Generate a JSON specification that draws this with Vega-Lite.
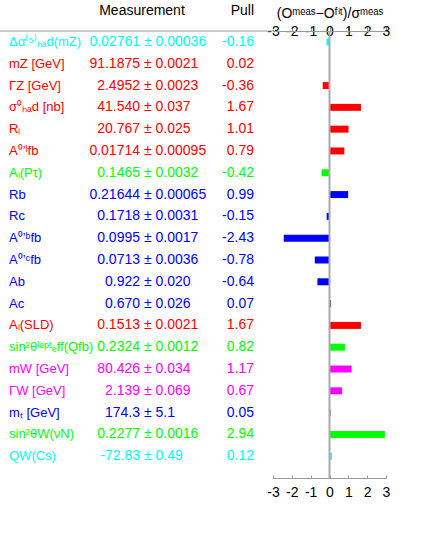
{
  "$schema": "https://vega.github.io/schema/vega-lite/v6.json",
  "width": 113,
  "height": 447,
  "autosize": {"type": "none"},
  "padding": {"left": 273, "top": 31, "right": 42, "bottom": 76},
  "background": "white",
  "config": {
    "view": {"stroke": null},
    "font": "Liberation Sans",
    "text": {"font": "Liberation Sans", "fontSize": 14, "baseline": "middle"}
  },
  "data": {
    "values": [
      {"id": 1, "label": "Δα⁽⁵⁾ₕₐd(mZ)", "value": "0.02761", "err": "± 0.00036", "pull": -0.16, "set": "A"},
      {"id": 2, "label": "mZ [GeV]", "value": "91.1875", "err": "± 0.0021", "pull": 0.02, "set": "B"},
      {"id": 3, "label": "ΓZ [GeV]", "value": "2.4952", "err": "± 0.0023", "pull": -0.36, "set": "B"},
      {"id": 4, "label": "σ⁰ₕₐd [nb]", "value": "41.540", "err": "± 0.037", "pull": 1.67, "set": "B"},
      {"id": 5, "label": "Rₗ", "value": "20.767", "err": "± 0.025", "pull": 1.01, "set": "B"},
      {"id": 6, "label": "A⁰ʼˡfb", "value": "0.01714", "err": "± 0.00095", "pull": 0.79, "set": "B"},
      {"id": 7, "label": "Aₗ(Pτ)", "value": "0.1465", "err": "± 0.0032", "pull": -0.42, "set": "C"},
      {"id": 8, "label": "Rb", "value": "0.21644", "err": "± 0.00065", "pull": 0.99, "set": "D"},
      {"id": 9, "label": "Rc", "value": "0.1718", "err": "± 0.0031", "pull": -0.15, "set": "D"},
      {"id": 10, "label": "A⁰ʼᵇfb", "value": "0.0995", "err": "± 0.0017", "pull": -2.43, "set": "D"},
      {"id": 11, "label": "A⁰ʼᶜfb", "value": "0.0713", "err": "± 0.0036", "pull": -0.78, "set": "D"},
      {"id": 12, "label": "Ab", "value": "0.922", "err": "± 0.020", "pull": -0.64, "set": "D"},
      {"id": 13, "label": "Ac", "value": "0.670", "err": "± 0.026", "pull": 0.07, "set": "D"},
      {"id": 14, "label": "Aₗ(SLD)", "value": "0.1513", "err": "± 0.0021", "pull": 1.67, "set": "B"},
      {"id": 15, "label": "sin²θˡᵉᵖᵗₑff(Qfb)", "value": "0.2324", "err": "± 0.0012", "pull": 0.82, "set": "C"},
      {"id": 16, "label": "mW [GeV]", "value": "80.426", "err": "± 0.034", "pull": 1.17, "set": "E"},
      {"id": 17, "label": "ΓW [GeV]", "value": "2.139", "err": "± 0.069", "pull": 0.67, "set": "E"},
      {"id": 18, "label": "mₜ [GeV]", "value": "174.3", "err": "± 5.1", "pull": 0.05, "set": "D"},
      {"id": 19, "label": "sin²θW(νN)", "value": "0.2277", "err": "± 0.0016", "pull": 2.94, "set": "C"},
      {"id": 20, "label": "QW(Cs)", "value": "-72.83", "err": "± 0.49", "pull": 0.12, "set": "A"}
    ]
  },
  "encoding": {
    "y": {
      "field": "id",
      "type": "ordinal",
      "axis": null,
      "scale": {"type": "band", "paddingInner": 0.68, "paddingOuter": 0.59, "align": 0.29}
    },
    "color": {
      "field": "set",
      "type": "nominal",
      "legend": null,
      "scale": {"domain": ["A", "B", "C", "D", "E"], "range": ["#00FFFF", "#FF0000", "#00FF00", "#0000FF", "#FF00FF"]}
    }
  },
  "layer": [
    {
      "mark": {"type": "bar", "opacity": 1},
      "encoding": {
        "x": {
          "field": "pull",
          "type": "quantitative",
          "scale": {"domain": [-3, 3], "nice": false, "zero": false},
          "axis": {
            "orient": "top",
            "values": [-3, -2, -1, 0, 1, 2, 3],
            "labelExpr": "toString(datum.value)",
            "grid": false,
            "tickSize": 5,
            "tickColor": "#999999",
            "domainColor": "#999999",
            "labelPadding": -12,
            "labelFont": "Liberation Sans",
            "labelFontSize": 14,
            "labelColor": "black",
            "labelFlush": false,
            "labelOverlap": false,
            "title": "(Oᵐᵉᵃˢ−Oᶠⁱᵗ)/σᵐᵉᵃˢ",
            "titleFont": "Liberation Sans",
            "titleFontSize": 14,
            "titleFontWeight": "normal",
            "titleColor": "black",
            "titlePadding": 4
          }
        },
        "x2": {"datum": 0}
      }
    },
    {
      "data": {"values": [{}]},
      "mark": {"type": "rule", "color": "#AAAAAA", "strokeWidth": 2},
      "encoding": {
        "x": {
          "datum": 0,
          "type": "quantitative",
          "axis": {
            "orient": "bottom",
            "values": [-3, -2, -1, 0, 1, 2, 3],
            "labelExpr": "toString(datum.value)",
            "grid": false,
            "tickSize": -3,
            "tickColor": "#999999",
            "domainColor": "#999999",
            "labelPadding": 10,
            "labelFont": "Liberation Sans",
            "labelFontSize": 14,
            "labelColor": "black",
            "labelFlush": false,
            "labelOverlap": false,
            "title": null
          }
        },
        "y": null,
        "color": null
      }
    },
    {
      "data": {"values": [{}]},
      "mark": {"type": "rule", "color": "#999999", "strokeWidth": 1},
      "encoding": {
        "x": {"value": -273},
        "x2": {"value": 0},
        "y": {"value": 0},
        "color": null
      }
    },
    {
      "mark": {"type": "text", "align": "left", "fontSize": 13},
      "encoding": {"x": {"value": -264}, "text": {"field": "label"}}
    },
    {
      "mark": {"type": "text", "align": "right"},
      "encoding": {"x": {"value": -133}, "text": {"field": "value"}}
    },
    {
      "mark": {"type": "text", "align": "left"},
      "encoding": {"x": {"value": -129}, "text": {"field": "err"}}
    },
    {
      "mark": {"type": "text", "align": "right"},
      "encoding": {"x": {"value": -19}, "text": {"field": "pull", "type": "nominal"}}
    },
    {
      "data": {"values": [{"h": "Measurement"}]},
      "mark": {"type": "text", "align": "center", "color": "black"},
      "encoding": {"x": {"value": -131}, "y": {"value": -20}, "text": {"field": "h"}, "color": null}
    },
    {
      "data": {"values": [{"h": "Pull"}]},
      "mark": {"type": "text", "align": "right", "color": "black"},
      "encoding": {"x": {"value": -19}, "y": {"value": -20}, "text": {"field": "h"}, "color": null}
    }
  ],
  "resolve": {"axis": {"x": "independent"}}
}
